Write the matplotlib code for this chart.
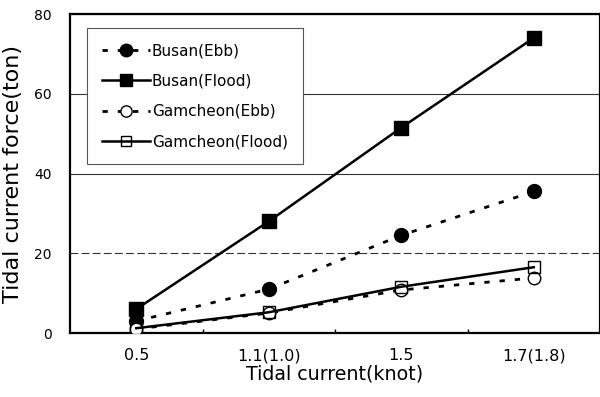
import matplotlib
matplotlib.use("Agg")
from matplotlib import pyplot as plt
import numpy as np

categories = ["0.5", "1.1(1.0)", "1.5", "1.7(1.8)"]
busan_ebb = [3, 11, 24.5, 35.5]
busan_flood = [6, 28, 51.5, 74]
gamcheon_ebb = [1, 5, 10.8, 13.8]
gamcheon_flood = [1.2, 5.2, 11.6, 16.5]

plt.rcParams['font.family'] = ['DejaVu Sans']

fig = plt.figure(figsize=(6, 3.97), dpi=100)
ax = fig.add_axes([0.1167, 0.1612, 0.8833, 0.8035])

x = np.arange(len(categories))
dot = (0, (1.9, 3.6))

ax.plot(x, busan_ebb, linestyle=dot, color='black', lw=2,
        marker='o', ms=10, mfc='black', mec='black', label="Busan(Ebb)", zorder=3)
ax.plot(x, busan_flood, linestyle='-', color='black', lw=1.8,
        marker='s', ms=9.5, mfc='black', mec='black', label="Busan(Flood)", zorder=3)
ax.plot(x, gamcheon_ebb, linestyle=dot, color='black', lw=2,
        marker='o', ms=9, mfc='white', mec='black', mew=1, label="Gamcheon(Ebb)", zorder=3)
ax.plot(x, gamcheon_flood, linestyle='-', color='black', lw=1.8,
        marker='s', ms=8.5, mfc='none', mec='black', mew=1, label="Gamcheon(Flood)", zorder=4)

ax.set_xlim(-0.5, 3.5)
ax.set_ylim(0, 80)
ax.set_xticks(x)
ax.set_xticklabels(categories)
ax.set_xticks([0.5, 1.5, 2.5], minor=True)
ax.set_yticks([0, 20, 40, 60, 80])
ax.tick_params(axis='x', which='major', length=0, pad=11, labelsize=11.5)
ax.tick_params(axis='x', which='minor', direction='in', length=3, width=1)
ax.tick_params(axis='y', length=0, pad=13, labelsize=10)

ax.yaxis.grid(True, color='#333333', lw=0.8)
ax.set_axisbelow(True)
for i, gl in enumerate(ax.get_ygridlines()):
    if i == 1:
        gl.set_dashes([7, 3])

for s in ax.spines.values():
    s.set_linewidth(1.6)

ax.set_xlabel("Tidal current(knot)", fontsize=13.7, labelpad=1)
ax.set_ylabel("Tidal current force(ton)", fontsize=16, labelpad=8)

leg = ax.legend(loc='upper left', bbox_to_anchor=(0.032, 0.956), borderaxespad=0,
                fontsize=11, handlelength=3.1, handletextpad=0.15,
                labelspacing=1.0, borderpad=1.0, fancybox=False,
                framealpha=1, edgecolor='#555555', markerscale=0.9)
leg.get_frame().set_linewidth(0.8)

fig.savefig("out.png", dpi=100)
